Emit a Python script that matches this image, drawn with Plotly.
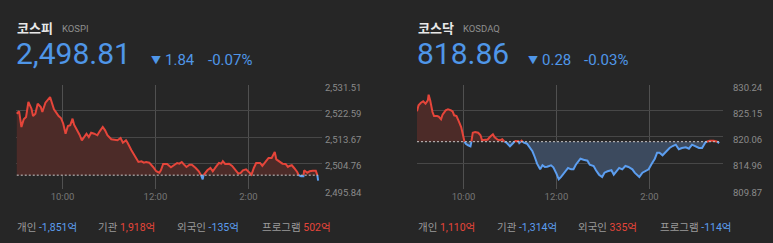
import numpy as np
import plotly.graph_objects as go

# ---------------- data ----------------
kospi_name, kospi_code = "코스피", "KOSPI"
kospi_close, kospi_change, kospi_pct = "2,498.81", "1.84", "-0.07%"
kospi_prev = 2500.65
kospi_ticks = [2495.84, 2504.76, 2513.67, 2522.59, 2531.51]
kospi_t = [1, 4, 7, 10, 13, 16, 20, 22, 25, 28, 32, 34, 38, 41, 44, 46, 49, 52, 55, 58,
           61, 64, 67, 70, 73, 75, 79, 82, 85, 88, 91, 94, 97, 101, 105, 108, 112, 115, 118, 123,
           127, 131, 135, 138, 142, 144, 149, 153, 158, 162, 165, 168, 172, 177, 181, 185, 187, 190, 195, 200,
           204, 208, 211, 214, 217, 220, 224, 227, 232, 236, 239, 241, 242, 247, 251, 254, 258, 262, 265, 267,
           270, 275, 279, 283, 287, 290, 293, 297, 301, 304, 307, 310, 315, 318, 322, 326, 330, 334, 336, 340,
           344, 348, 351, 353, 356, 359, 363, 365, 368, 371, 372, 376, 379, 383, 387, 389, 390]
kospi_v = [2521.62, 2522.44, 2517.09, 2519.71, 2520.50, 2525.61, 2523.33, 2520.84, 2521.62, 2525.03,
           2523.91, 2522.20, 2525.38, 2526.54, 2527.32, 2525.61, 2523.12, 2521.97, 2520.84, 2520.16,
           2518.21, 2514.80, 2517.43, 2517.67, 2519.92, 2517.87, 2515.96, 2514.46, 2512.55, 2513.68,
           2514.80, 2513.68, 2515.14, 2514.80, 2514.26, 2515.62, 2517.09, 2515.96, 2514.26, 2512.89,
           2512.76, 2512.55, 2513.34, 2511.73, 2512.55, 2511.73, 2509.14, 2507.20, 2505.15, 2505.39,
           2504.91, 2505.15, 2504.91, 2503.45, 2501.98, 2501.50, 2502.32, 2504.47, 2504.47, 2503.34,
           2504.03, 2504.81, 2504.57, 2505.15, 2504.23, 2503.45, 2504.23, 2504.23, 2503.10, 2501.98,
           2500.61, 2499.25, 2500.61, 2502.32, 2503.10, 2501.98, 2503.45, 2504.81, 2504.57, 2505.39,
           2504.47, 2504.57, 2503.79, 2502.32, 2501.16, 2501.40, 2502.32, 2502.66, 2501.74, 2500.82,
           2503.10, 2504.81, 2504.81, 2503.79, 2505.15, 2506.52, 2506.52, 2508.56, 2506.07, 2505.39,
           2504.57, 2504.47, 2503.45, 2503.79, 2504.03, 2503.10, 2501.74, 2500.61, 2500.27, 2500.27,
           2502.32, 2501.50, 2501.98, 2502.18, 2502.18, 2500.61, 2498.81]

kosdaq_name, kosdaq_code = "코스닥", "KOSDAQ"
kosdaq_close, kosdaq_change, kosdaq_pct = "818.86", "0.28", "-0.03%"
kosdaq_prev = 819.14
kosdaq_ticks = [809.87, 814.96, 820.06, 825.15, 830.24]
kosdaq_t = [0, 2, 5, 8, 11, 14, 15, 17, 20, 22, 26, 28, 31, 33, 37, 40, 44, 46, 48, 51,
            54, 57, 59, 61, 63, 66, 69, 70, 72, 75, 79, 82, 84, 88, 91, 94, 98, 100, 104, 107,
            110, 113, 116, 120, 124, 127, 131, 132, 135, 138, 142, 145, 149, 152, 155, 159, 162, 165, 168, 173,
            176, 180, 183, 186, 191, 195, 199, 202, 205, 211, 215, 220, 223, 228, 231, 235, 239, 242, 246, 251,
            254, 258, 261, 265, 269, 273, 278, 281, 285, 287, 291, 295, 299, 303, 307, 310, 313, 317, 322, 326,
            330, 334, 338, 342, 347, 351, 355, 359, 364, 368, 372, 375, 378, 383, 387, 390]
kosdaq_v = [825.06, 826.23, 826.73, 827.01, 826.54, 827.20, 828.29, 827.20, 824.92, 824.14,
            824.14, 824.01, 823.50, 824.40, 825.25, 825.45, 825.25, 825.06, 824.28, 824.14,
            823.11, 822.00, 820.70, 819.22, 818.75, 818.44, 818.24, 818.94, 820.89, 821.03,
            820.89, 820.39, 819.41, 819.53, 819.53, 820.05, 820.58, 820.05, 819.53, 819.41,
            819.61, 819.14, 818.89, 818.24, 818.94, 819.28, 819.22, 818.89, 819.33, 818.94,
            818.75, 818.11, 817.27, 816.16, 814.86, 813.76, 814.54, 814.21, 814.27, 814.54,
            814.15, 812.91, 811.82, 812.27, 813.24, 814.02, 813.76, 813.76, 814.66, 815.83,
            815.63, 815.44, 814.66, 814.41, 813.57, 812.71, 812.27, 813.10, 813.38, 813.57,
            812.71, 813.38, 814.02, 813.76, 814.41, 814.21, 813.76, 813.10, 812.46, 812.27,
            813.10, 813.38, 813.76, 814.86, 815.83, 817.00, 817.00, 816.49, 817.27, 817.91,
            818.30, 818.56, 817.66, 817.91, 818.05, 817.78, 818.56, 818.30, 817.91, 817.91,
            818.94, 819.22, 819.33, 819.33, 819.22, 818.86]

time_tickvals = [60, 180, 300]
time_ticktext = ["10:00", "12:00", "2:00"]

investors = ["개인", "기관", "외국인", "프로그램"]
kospi_flows = ["-1,851", "1,918", "-135", "502"]
kosdaq_flows = ["1,110", "-1,314", "335", "-114"]

# ---------------- style ----------------
W, H = 773, 243
BG = "#262626"
RED = "#e5453a"
BLUE = "#5c9ef0"
TXT_BLUE = "#4f96e8"
RED_FILL = "#4c2b28"
BLUE_FILL = "#3c4a5e"
GRID = "#474747"
FONT = "Roboto, 'Noto Sans CJK KR', sans-serif"
KFONT = "'Noto Sans CJK KR', Roboto, sans-serif"


def split(t, v, base):
    T, V = [t[0]], [v[0]]
    for i in range(1, len(t)):
        a, b = v[i - 1] - base, v[i] - base
        if a * b < 0:
            f = a / (a - b)
            T.append(t[i - 1] + f * (t[i] - t[i - 1]))
            V.append(base)
        T.append(t[i])
        V.append(v[i])
    up = [y if y >= base else None for y in V]
    dn = [y if y <= base else None for y in V]
    hi = [max(y, base) for y in V]
    lo = [min(y, base) for y in V]
    return T, up, dn, hi, lo


fig = go.Figure()
shapes = []


def add_panel(t, v, base, xa, ya):
    T, up, dn, hi, lo = split(t, v, base)
    basel = [base] * len(T)
    common = dict(xaxis=xa, yaxis=ya, mode="lines", hoverinfo="skip", showlegend=False)
    fig.add_trace(go.Scatter(x=T, y=basel, line=dict(width=0), **common))
    fig.add_trace(go.Scatter(x=T, y=hi, fill="tonexty", fillcolor=RED_FILL, line=dict(width=0), **common))
    fig.add_trace(go.Scatter(x=T, y=basel, line=dict(width=0), **common))
    fig.add_trace(go.Scatter(x=T, y=lo, fill="tonexty", fillcolor=BLUE_FILL, line=dict(width=0), **common))
    fig.add_trace(go.Scatter(x=T, y=up, line=dict(color=RED, width=2), **common))
    fig.add_trace(go.Scatter(x=T, y=dn, line=dict(color=BLUE, width=2), **common))
    shapes.append(dict(type="line", xref=xa, yref=ya, x0=T[0], x1=T[-1], y0=base, y1=base,
                       line=dict(color="#c8c8c8", width=1, dash="2px,2px")))


add_panel(kospi_t, kospi_v, kospi_prev, "x", "y")
add_panel(kosdaq_t, kosdaq_v, kosdaq_prev, "x2", "y2")

ydom = [1 - 189.3 / H, 1 - 84.7 / H]


def xaxis(dom):
    return dict(domain=dom, range=[0, 395], tickvals=time_tickvals, ticktext=time_ticktext,
                showgrid=True, gridcolor="#505050", gridwidth=1, zeroline=False, showline=False,
                ticks="", tickfont=dict(family=FONT, size=9.5, color="#777777"), fixedrange=True)


def yaxis(ticks, anchor, standoff):
    pad = 0.0003 * (ticks[-1] - ticks[0])
    return dict(domain=ydom, range=[ticks[0] - pad, ticks[-1] + pad],
                tickvals=ticks, tickformat=",.2f", side="right", anchor=anchor,
                showgrid=True, gridcolor=GRID, gridwidth=1, zeroline=False, showline=False,
                ticks="", ticklabelshift=3, ticklabelstandoff=standoff,
                tickfont=dict(family=FONT, size=9.5, color="#8a8a8a"), fixedrange=True)


ann = []


def txt(x, y, s, size, color, family=FONT, xanchor="left"):
    ann.append(dict(x=x / W, y=1 - y / H, xref="paper", yref="paper", text=s, showarrow=False,
                    xanchor=xanchor, yanchor="middle", font=dict(family=family, size=size, color=color)))


def header(x0, name, code, close, change, pct, code_dx, tri_x, chg_x, pct_x):
    txt(x0 - 1, 27, "<b>" + name + "</b>", 13, "#e8e8e8", KFONT)
    txt(x0 + code_dx - 1, 28, code, 9.5, "#8f8f8f")
    txt(x0 - 2, 53, close, 30, TXT_BLUE)
    txt(tri_x, 60, "▼", 10, TXT_BLUE)
    txt(chg_x, 59.5, change, 15, TXT_BLUE)
    txt(pct_x, 59.5, pct, 15, TXT_BLUE)


header(16, kospi_name, kospi_code, kospi_close, kospi_change, kospi_pct, 45, 149, 163, 206)
header(417, kosdaq_name, kosdaq_code, kosdaq_close, kosdaq_change, kosdaq_pct, 45, 526, 540, 582)


def stats(xs, flows):
    for x, name, val in zip(xs, investors, flows):
        c = BLUE if val.startswith("-") else RED
        s = ("<span style='color:#9a9a9a'>" + name + "</span> "
             "<span style='color:" + c + "'>" + val + "억</span>")
        txt(x - 1, 227.5, s, 10.5, "#9a9a9a")


stats([16, 97, 176, 261], kospi_flows)
stats([417, 496, 577, 659], kosdaq_flows)

fig.update_layout(
    width=W, height=H, margin=dict(l=0, r=0, t=0, b=0, autoexpand=False),
    paper_bgcolor=BG, plot_bgcolor=BG,
    xaxis=xaxis([16 / W, 322 / W]), yaxis=yaxis(kospi_ticks, "x", 2),
    xaxis2=xaxis([417 / W, 723 / W]), yaxis2=yaxis(kosdaq_ticks, "x2", 9),
    shapes=shapes, annotations=ann, showlegend=False,
)

fig.write_html("out.html")
